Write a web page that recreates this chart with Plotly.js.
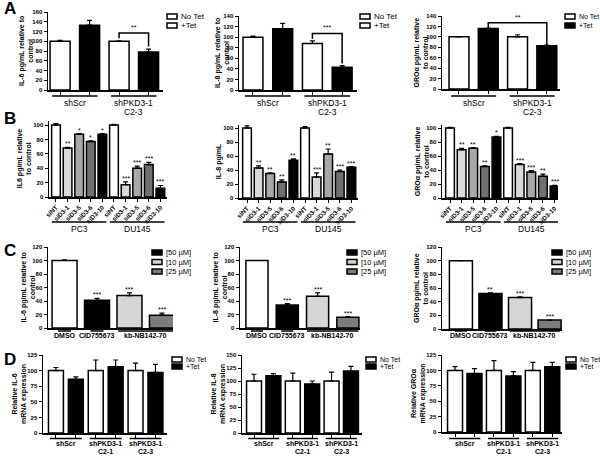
<!DOCTYPE html>
<html><head><meta charset="utf-8">
<script src="https://cdn.plot.ly/plotly-3.0.1.min.js"></script>
<style>html,body{margin:0;padding:0;background:#fff}</style>
</head><body><div id="chart" style="width:600px;height:456px"></div>
<script>
// ---------------- DATA ----------------
const legendTet = ['No Tet', '+Tet'];
const legendDose = ['[50 µM]', '[10 µM]', '[25 µM]'];
const groupsA = ['shScr', 'shPKD3-1<br>C2-3'];
const groupsA_span = [[0, 1], [2, 3]];
const groupsB = ['PC3', 'DU145'];
const groupsB_span = [[0, 4], [5, 9]];
const groupsC = ['DMSO', 'CID755673', 'kb-NB142-70'];
const groupsC_span = [[0, 0], [1, 1], [2, 3]];
const groupsD = ['shScr', 'shPKD3-1<br>C2-1', 'shPKD3-1<br>C2-3'];
const groupsD_span = [[0, 1], [2, 3], [4, 5]];
const sirnaLabels = ['siNT', 'siD3-1', 'siD3-5', 'siD3-6', 'siD3-10', 'siNT', 'siD3-1', 'siD3-5', 'siD3-6', 'siD3-10'];

const A_IL6 = [100, 133, 100, 78];
const A_IL6_err = [2, 10, 1, 6];
const A_IL8 = [100, 116, 88, 43];
const A_IL8_err = [2, 10, 5, 3];
const A_GRO = [100, 116, 100, 83];
const A_GRO_err = [0, 1, 4, 1];
const A_sig = ['**', '***', '**'];

const B_IL6 = [100, 68, 87, 77, 87, 100, 17, 40, 45, 12];
const B_IL6_err = [2, 1, 1, 1, 1, 1, 4, 3, 3, 4];
const B_IL6_sig = ['', '**', '*', '*', '*', '', '***', '***', '***', '***'];
const B_IL8 = [100, 43, 35, 23, 54, 100, 30, 63, 38, 44];
const B_IL8_err = [3, 3, 1, 3, 2, 2, 6, 7, 2, 1];
const B_IL8_sig = ['', '**', '**', '**', '**', '', '***', '**', '***', '***'];
const B_GRO = [100, 69, 71, 45, 87, 100, 48, 37, 31, 17];
const B_GRO_err = [1, 2, 1, 1, 1, 1, 1, 2, 3, 1];
const B_GRO_sig = ['', '**', '**', '**', '*', '', '***', '***', '**', '***'];

const C_IL6 = [100, 41, 48, 19];
const C_IL6_err = [1, 3, 4, 3];
const C_IL6_sig = ['', '***', '***', '***'];
const C_IL8 = [100, 34, 47, 16];
const C_IL8_err = [0, 2, 5, 1];
const C_IL8_sig = ['', '***', '***', '***'];
const C_GRO = [100, 52, 46, 13];
const C_GRO_err = [0, 1, 1, 0];
const C_GRO_sig = ['', '**', '***', '***'];

const D_IL6 = [100, 86, 100, 106, 100, 97];
const D_IL6_err = [5, 4, 17, 11, 12, 13];
const D_IL8 = [100, 110, 100, 94, 100, 119];
const D_IL8_err = [13, 4, 15, 6, 17, 9];
const D_GRO = [100, 95, 100, 91, 100, 106];
const D_GRO_err = [6, 8, 16, 7, 13, 7];

// ---------------- STYLE ----------------
const W = 600, H = 456;
const FONT = 'Liberation Sans, Arial, sans-serif';
const WHITE = '#ffffff', BLACK = '#000000';
const tetColors = [WHITE, BLACK, WHITE, BLACK, WHITE, BLACK];
const sirnaColors = [WHITE, '#d9d9d9', '#a8a8a8', '#707070', BLACK, WHITE, '#d9d9d9', '#a8a8a8', '#707070', BLACK];
const doseColors = [WHITE, BLACK, '#d6d6d6', '#7c7c7c'];

const px = v => v / W, py = v => 1 - v / H;
const traces = [], shapes = [], annotations = [];
const layout = {
  width: W, height: H, margin: {l: 0, r: 0, t: 0, b: 0},
  paper_bgcolor: '#fff', plot_bgcolor: 'rgba(0,0,0,0)', showlegend: false,
  font: {family: FONT, color: '#000'}
};
const F = (size, bold) => ({size: size, family: FONT, color: BLACK, weight: bold ? 'bold' : 'normal'});

function panel(n, o) {
  const sfx = n === 1 ? '' : String(n);
  const xr = 'x' + sfx, yr = 'y' + sfx;
  const xs = o.values.map((_, i) => i);
  traces.push({
    type: 'bar', x: xs, y: o.values, xaxis: xr, yaxis: yr, width: o.barw,
    marker: {color: o.colors, line: {color: BLACK, width: 1.5}},
    error_y: {type: 'data', symmetric: false, array: o.errs, arrayminus: o.errs.map(() => 0),
      color: BLACK, thickness: 1.2, width: 2.5},
    hoverinfo: 'skip', showlegend: false
  });
  layout['xaxis' + sfx] = {
    domain: [px(o.L), px(o.R)], range: o.xrange, anchor: yr,
    showline: true, linecolor: BLACK, linewidth: 1.5,
    ticks: o.noXTicks ? '' : 'outside', ticklen: 3, tickwidth: 1, tickcolor: BLACK,
    tickvals: xs, ticktext: o.ticktext || xs.map(() => ''), tickangle: o.ticktext ? -45 : 0,
    tickfont: F(6.3, true),
    showgrid: false, zeroline: false, fixedrange: true
  };
  layout['yaxis' + sfx] = {
    domain: [py(o.B), py(o.T)], range: [0, o.ymax], anchor: xr,
    showline: true, linecolor: BLACK, linewidth: 1.5,
    ticks: 'outside', ticklen: 3, tickwidth: 1, tickcolor: BLACK, dtick: o.dtick, tick0: 0,
    tickfont: F(6, true),
    showgrid: false, zeroline: false, fixedrange: true
  };
  // y-axis title as rotated annotation
  annotations.push({xref: 'paper', yref: 'paper', x: px(o.titleX), y: py((o.T + o.B) / 2),
    text: '<b>' + o.ytitle + '</b>', textangle: -90, showarrow: false,
    xanchor: 'center', yanchor: 'middle', font: F(7, true)});
  // significance stars
  if (o.sig) o.sig.forEach((s, i) => {
    if (!s) return;
    annotations.push({xref: xr, yref: yr, x: i, y: o.values[i] + o.errs[i], text: s,
      showarrow: false, yanchor: 'bottom', font: F(7, false), yshift: -2});
  });
  // group lines / labels
  if (o.groups) o.groups.forEach((g, k) => {
    const [a, b] = o.spans[k];
    const pad = a === b ? o.singlePad : o.pad;
    shapes.push({type: 'line', xref: xr, yref: 'paper', x0: a - pad, x1: b + pad,
      y0: py(o.gLineY), y1: py(o.gLineY), line: {color: BLACK, width: 1.5}});
    g.split('<br>').forEach((line, li) => {
      annotations.push({xref: xr, yref: 'paper', x: (a + b) / 2, y: py(o.gTextY + li * o.gSpacing),
        text: o.gBold ? '<b>' + line + '</b>' : line,
        showarrow: false, yanchor: 'middle', font: F(o.gSize, o.gBold)});
    });
  });
  // bracket
  if (o.bracket) {
    const br = o.bracket, v = o.values, e = o.errs;
    const yl = v[br.i] + e[br.i] + br.gap, yrr = v[br.j] + e[br.j] + br.gap;
    shapes.push({type: 'path', xref: xr, yref: yr,
      path: `M ${br.i},${yl} L ${br.i},${br.top} L ${br.j},${br.top} L ${br.j},${yrr}`,
      line: {color: BLACK, width: 1.5}});
    annotations.push({xref: xr, yref: yr, x: (br.i + br.j) / 2, y: br.top, text: br.text,
      showarrow: false, yanchor: 'bottom', font: F(7, false)});
  }
  // legend
  if (o.legend) {
    o.legend.labels.forEach((lab, k) => {
      const top = o.legend.y + k * o.legend.dy;
      shapes.push({type: 'rect', xref: 'paper', yref: 'paper',
        x0: px(o.legend.x), x1: px(o.legend.x + o.legend.w), y0: py(top + o.legend.h), y1: py(top),
        fillcolor: o.legend.colors[k], line: {color: BLACK, width: 1.5}});
      annotations.push({xref: 'paper', yref: 'paper', x: px(o.legend.x + o.legend.w + 2), y: py(top + o.legend.h / 2),
        text: lab, showarrow: false, xanchor: 'left', yanchor: 'middle', font: F(o.legend.size, false)});
    });
  }
}

const tetLegend = (x, colors, size) => ({labels: legendTet, colors: colors, x: x, y: 14, dy: 9, w: 10, h: 5, size: size || 8});
const doseLegend = x => ({labels: legendDose, colors: [BLACK, '#d6d6d6', '#7c7c7c'], x: x, y: 250, dy: 9.5, w: 10, h: 5, size: 7.5});
const dLegend = x => ({labels: legendTet, colors: [WHITE, BLACK], x: x, y: 357, dy: 7, w: 10, h: 5, size: 7});
const Agrp = {groups: groupsA, spans: groupsA_span, pad: 0.27, singlePad: 0.2, gLineY: 96, gTextY: 103, gSpacing: 9, gSize: 8.5, gBold: false};
const Bgrp = {groups: groupsB, spans: groupsB_span, pad: 0.35, singlePad: 0.2, gLineY: 222, gTextY: 228.5, gSpacing: 9, gSize: 8.5, gBold: false};
const Cgrp = {groups: groupsC, spans: groupsC_span, pad: 0.35, singlePad: 0.2, gLineY: 331, gTextY: 335.5, gSpacing: 8, gSize: 7, gBold: true, noXTicks: true};
const Dgrp = {groups: groupsD, spans: groupsD_span, pad: 0.3, singlePad: 0.2, gLineY: 438.5, gTextY: 443, gSpacing: 8, gSize: 7, gBold: true};

// Row A
panel(1, Object.assign({values: A_IL6, errs: A_IL6_err, colors: tetColors.slice(0, 4), L: 48, R: 163, T: 12, B: 90, ymax: 160, dtick: 20,
  xrange: [-0.41, 3.49], barw: 0.68, ytitle: 'IL-6 pg/mL relative to<br>control', titleX: 26,
  bracket: {i: 2, j: 3, top: 117, gap: 5, text: A_sig[0]}, legend: tetLegend(167, [WHITE, WHITE])}, Agrp));
panel(2, Object.assign({values: A_IL8, errs: A_IL8_err, colors: tetColors.slice(0, 4), L: 239, R: 357, T: 16, B: 90, ymax: 140, dtick: 20,
  xrange: [-0.47, 3.5], barw: 0.67, ytitle: 'IL-8 pg/mL relative to<br>control', titleX: 222,
  bracket: {i: 2, j: 3, top: 107, gap: 4, text: A_sig[1]}, legend: tetLegend(360, [WHITE, WHITE])}, Agrp));
panel(3, Object.assign({values: A_GRO, errs: A_GRO_err, colors: tetColors.slice(0, 4), L: 442, R: 560, T: 16, B: 89, ymax: 140, dtick: 20,
  xrange: [-0.58, 3.45], barw: 0.68, ytitle: 'GROα pg/mL relative<br>to control', titleX: 421,
  bracket: {i: 1, j: 3, top: 127, gap: 0, text: A_sig[2]}, legend: tetLegend(565, [WHITE, BLACK], 7)}, Agrp));

// Row B
panel(4, Object.assign({values: B_IL6, errs: B_IL6_err, colors: sirnaColors, sig: B_IL6_sig, L: 49, R: 167, T: 121.4, B: 197, ymax: 105, dtick: 20,
  xrange: [-0.6, 9.57], barw: 0.75, ticktext: sirnaLabels, ytitle: 'IL6 pg/mL relative<br>to control', titleX: 24}, Bgrp));
panel(5, Object.assign({values: B_IL8, errs: B_IL8_err, colors: sirnaColors, sig: B_IL8_sig, L: 239, R: 358, T: 124.5, B: 198, ymax: 105, dtick: 20,
  xrange: [-0.69, 9.57], barw: 0.75, ticktext: sirnaLabels, ytitle: 'IL-8 pg/mL', titleX: 219}, Bgrp));
panel(6, Object.assign({values: B_GRO, errs: B_GRO_err, colors: sirnaColors, sig: B_GRO_sig, L: 442, R: 558, T: 124.5, B: 198, ymax: 105, dtick: 20,
  xrange: [-0.69, 9.3], barw: 0.75, ticktext: sirnaLabels, ytitle: 'GROα pg/mL relative<br>to control', titleX: 422}, Bgrp));

// Row C
panel(7, Object.assign({values: C_IL6, errs: C_IL6_err, colors: doseColors, sig: C_IL6_sig, L: 48, R: 173, T: 247, B: 328, ymax: 120, dtick: 20,
  xrange: [-0.51, 3.34], barw: 0.77, ytitle: 'IL-6 pg/mL relative to<br>control', titleX: 27, legend: doseLegend(152)}, Cgrp));
panel(8, Object.assign({values: C_IL8, errs: C_IL8_err, colors: doseColors, sig: C_IL8_sig, L: 240, R: 360, T: 247, B: 328, ymax: 120, dtick: 20,
  xrange: [-0.56, 3.4], barw: 0.73, ytitle: 'IL-8 pg/mL relative to<br>control', titleX: 219, legend: doseLegend(347)}, Cgrp));
panel(9, Object.assign({values: C_GRO, errs: C_GRO_err, colors: doseColors, sig: C_GRO_sig, L: 442, R: 562, T: 247, B: 329, ymax: 120, dtick: 20,
  xrange: [-0.64, 3.42], barw: 0.78, ytitle: 'GROα pg/mL relative<br>to control', titleX: 421, legend: doseLegend(552)}, Cgrp));

// Row D
panel(10, Object.assign({values: D_IL6, errs: D_IL6_err, colors: tetColors, L: 43, R: 167, T: 355, B: 433, ymax: 125, dtick: 25,
  xrange: [-0.65, 5.58], barw: 0.75, ytitle: 'Relative IL-6<br>mRNA expression', titleX: 19, legend: dLegend(172)}, Dgrp));
panel(11, Object.assign({values: D_IL8, errs: D_IL8_err, colors: tetColors, L: 242, R: 362, T: 355, B: 433, ymax: 150, dtick: 25,
  xrange: [-0.62, 5.57], barw: 0.77, ytitle: 'Relative IL-8<br>mRNA expression', titleX: 218, legend: dLegend(366)}, Dgrp));
panel(12, Object.assign({values: D_GRO, errs: D_GRO_err, colors: tetColors, L: 442, R: 562, T: 355, B: 432, ymax: 125, dtick: 25,
  xrange: [-0.67, 5.5], barw: 0.77, ytitle: 'Relative GROα<br>mRNA expression', titleX: 418, legend: dLegend(566)}, Dgrp));

// panel letters
[['A', -3], ['B', 107], ['C', 239], ['D', 348]].forEach(([t, y]) => {
  annotations.push({xref: 'paper', yref: 'paper', x: px(2), y: py(y), xanchor: 'left', yanchor: 'top',
    text: '<b>' + t + '</b>', showarrow: false, font: F(17, true)});
});

layout.shapes = shapes;
layout.annotations = annotations;
Plotly.newPlot('chart', traces, layout, {staticPlot: true, displayModeBar: false});
</script>
</body></html>
